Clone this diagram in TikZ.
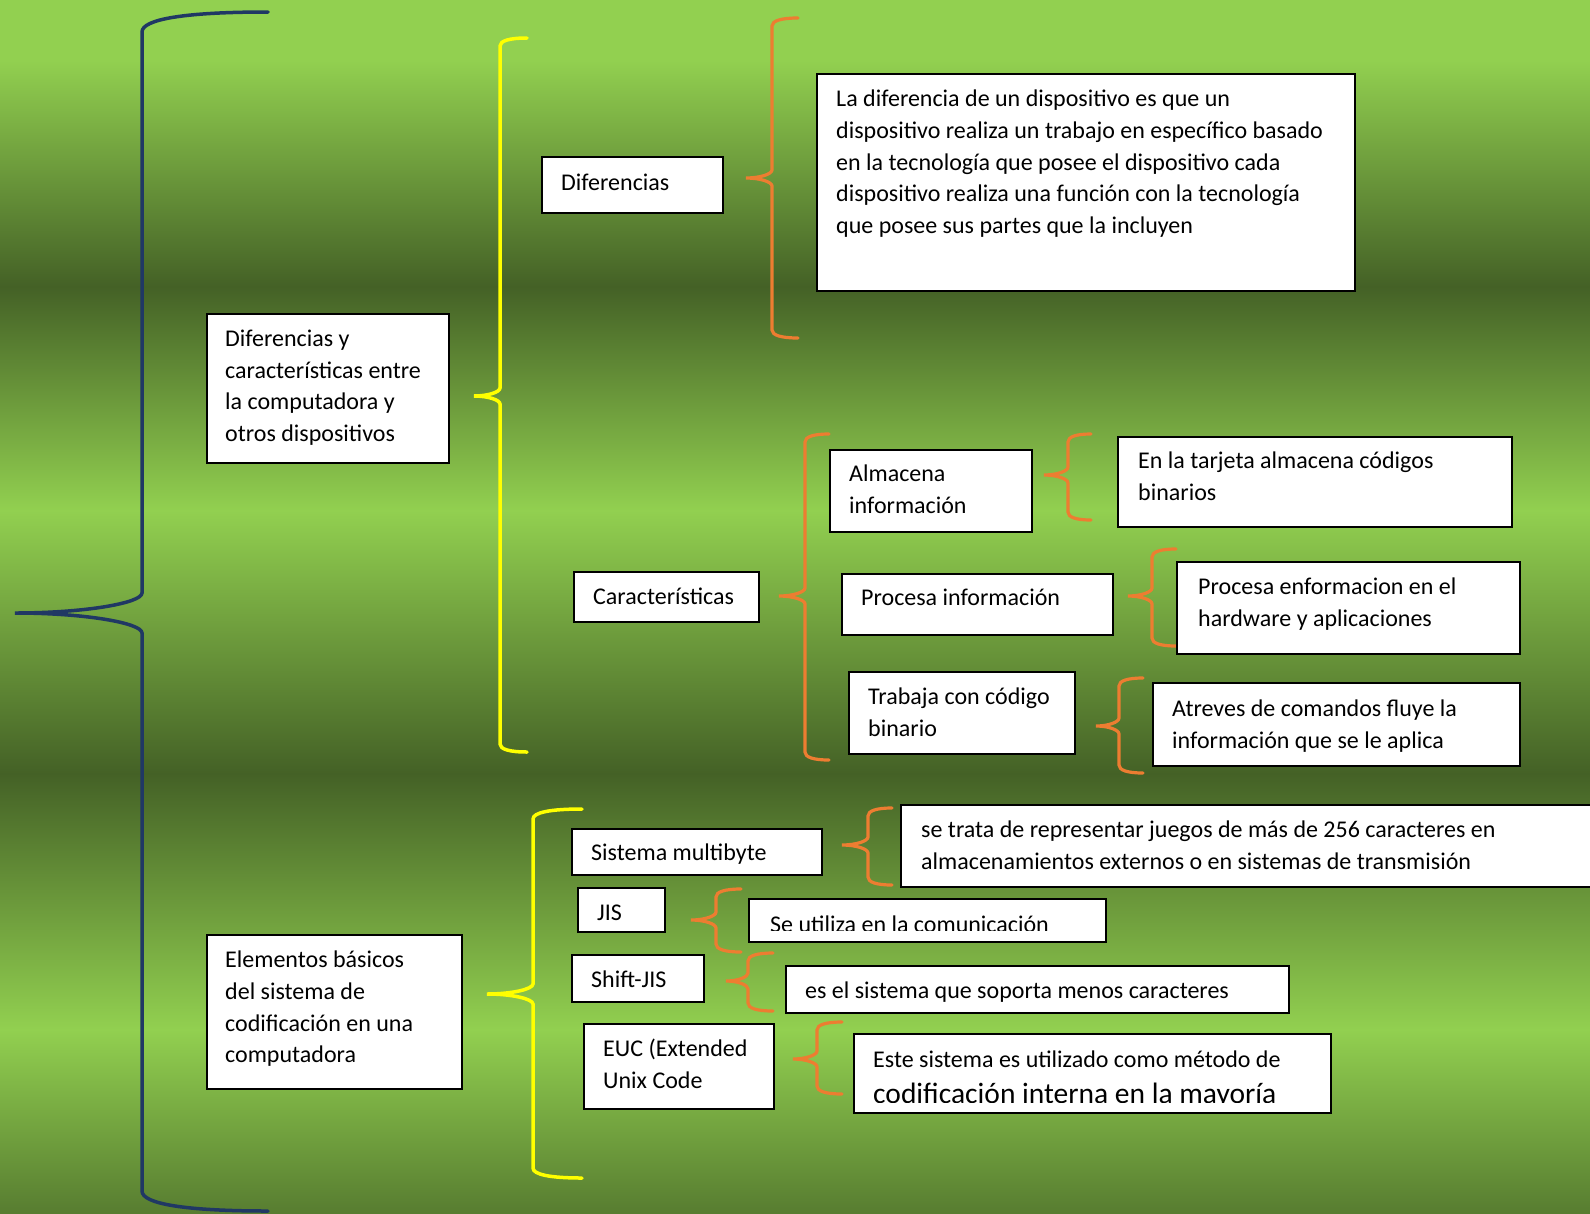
\documentclass[tikz,border=0pt]{standalone}
\usepackage{fontspec}
\setmainfont{Carlito}
\usetikzlibrary{calc}

\definecolor{verdeclaro}{RGB}{146,208,80}
\definecolor{verdeoscuro}{RGB}{68,97,38}
\definecolor{azulllave}{RGB}{32,56,100}
\definecolor{naranjallave}{RGB}{237,125,49}
\definecolor{amarillollave}{RGB}{255,255,0}

\tikzset{
  caja/.style={draw=black, line width=1.5pt, fill=white, anchor=north west, inner sep=0pt},
  texto/.style={anchor=north west, align=left, inner sep=0pt, font=\fontsize{24}{31.6}\selectfont,
    execute at begin node=\strut},
  llaveazul/.style={draw=azulllave, line width=3.5pt, line cap=round},
  llaveamarilla/.style={draw=amarillollave, line width=3.5pt, line cap=round},
  llavenaranja/.style={draw=naranjallave, line width=3.2pt, line cap=round}
}

% llave: estilo, x recta, x extremos, x punta, y arriba, y punta, y abajo, curva
\newcommand{\llave}[8]{%
  \draw[#1] (#3,#5) .. controls ({#2+0.35*(#3-#2)},#5) and (#2,{#5+0.35*#8}) .. (#2,{#5+#8})
    -- (#2,{#6-#8}) .. controls (#2,{#6-0.5*#8}) and ({#4+0.55*(#2-#4)},#6) .. (#4,#6)
    .. controls ({#4+0.55*(#2-#4)},#6) and (#2,{#6+0.5*#8}) .. (#2,{#6+#8})
    -- (#2,{#7-#8}) .. controls (#2,{#7-0.35*#8}) and ({#2+0.35*(#3-#2)},#7) .. (#3,#7);}

\begin{document}
\begin{tikzpicture}[x=1pt,y=-1pt]
  \clip (0,0) rectangle (1590,1213);

  % fondo
  \fill[verdeclaro] (0,0) rectangle (1590,61);
  \shade[top color=verdeclaro, bottom color=verdeoscuro] (0,60) rectangle (1590,287);
  \shade[top color=verdeoscuro, bottom color=verdeclaro] (0,286) rectangle (1590,511);
  \shade[top color=verdeclaro, bottom color=verdeoscuro] (0,510) rectangle (1590,774);
  \shade[top color=verdeoscuro, bottom color=verdeclaro] (0,773) rectangle (1590,1030);
  \shade[top color=verdeclaro, bottom color=verdeoscuro!75!verdeclaro] (0,1029) rectangle (1590,1213);

  % llaves
  \llave{llaveazul}{142}{268}{15}{12}{613}{1211}{20}
  \llave{llaveamarilla}{500}{527}{474}{38}{396}{752}{8}
  \llave{llaveamarilla}{533}{582}{487}{809}{994}{1178}{10}
  \llave{llavenaranja}{772}{798}{746}{18}{178}{338}{8}
  \llave{llavenaranja}{805}{829}{779}{434}{596}{760}{8}
  \llave{llavenaranja}{1068}{1091}{1044}{434}{475}{520}{8}
  \llave{llavenaranja}{1152}{1176}{1128}{549}{596}{646}{8}
  \llave{llavenaranja}{1119}{1143}{1096}{678}{726}{773}{8}
  \llave{llavenaranja}{868}{892}{842}{808}{845}{885}{8}
  \llave{llavenaranja}{716}{741}{691}{889}{920}{952}{8}
  \llave{llavenaranja}{748}{773}{726}{953}{981}{1011}{8}
  \llave{llavenaranja}{817}{842}{793}{1022}{1059}{1094}{8}

  % cajas
  \node[caja, minimum width=242, minimum height=149] (difcar) at (206,313) {};
  \node[caja, minimum width=181, minimum height=56] (dif) at (541,156) {};
  \node[caja, minimum width=538, minimum height=217] (difdesc) at (816,73) {};
  \node[caja, minimum width=185, minimum height=50] (car) at (573,571) {};
  \node[caja, minimum width=202, minimum height=82] (alm) at (829,449) {};
  \node[caja, minimum width=394, minimum height=90] (almdesc) at (1117,436) {};
  \node[caja, minimum width=271, minimum height=61] (proc) at (841,573) {};
  \node[caja, minimum width=343, minimum height=92] (procdesc) at (1176,561) {};
  \node[caja, minimum width=226, minimum height=82] (trab) at (848,671) {};
  \node[caja, minimum width=367, minimum height=83] (trabdesc) at (1152,682) {};
  \node[caja, minimum width=255, minimum height=154] (elem) at (206,934) {};
  \node[caja, minimum width=250, minimum height=46] (multi) at (571,828) {};
  \node[caja, minimum width=710, minimum height=82] (multidesc) at (900,804) {};
  \node[caja, minimum width=87, minimum height=44] (jis) at (577,887) {};
  \node[caja, minimum width=357, minimum height=43] (jisdesc) at (748,898) {};
  \node[caja, minimum width=132, minimum height=47] (sjis) at (571,954) {};
  \node[caja, minimum width=503, minimum height=47] (sjisdesc) at (785,965) {};
  \node[caja, minimum width=190, minimum height=85] (euc) at (583,1023) {};
  \node[caja, minimum width=477, minimum height=79] (eucdesc) at (853,1033) {};

  % textos
  \node[texto] (difcar-t) at ($(difcar.north west)+(19,17)$) {Diferencias y\\características entre\\la computadora y\\otros dispositivos};
  \node[texto] (dif-t) at ($(dif.north west)+(20,12)$) {Diferencias};
  \node[texto] (difdesc-t) at ($(difdesc.north west)+(20,17)$) {La diferencia de un dispositivo es que un\\dispositivo realiza un trabajo en específico basado\\en la tecnología que posee el dispositivo cada\\dispositivo realiza una función con la tecnología\\que posee sus partes que la incluyen};
  \node[texto] (car-t) at ($(car.north west)+(20,11)$) {Características};
  \node[texto] (alm-t) at ($(alm.north west)+(20,16)$) {Almacena\\información};
  \node[texto] (almdesc-t) at ($(almdesc.north west)+(21,16)$) {En la tarjeta almacena códigos\\binarios};
  \node[texto] (proc-t) at ($(proc.north west)+(20,10)$) {Procesa información};
  \node[texto] (procdesc-t) at ($(procdesc.north west)+(22,17)$) {Procesa enformacion en el\\hardware y aplicaciones};
  \node[texto] (trab-t) at ($(trab.north west)+(20,17)$) {Trabaja con código\\binario};
  \node[texto] (trabdesc-t) at ($(trabdesc.north west)+(20,18)$) {Atreves de comandos fluye la\\información que se le aplica};
  \node[texto] (elem-t) at ($(elem.north west)+(19,17)$) {Elementos básicos\\del sistema de\\codificación en una\\computadora};
  \node[texto] (multi-t) at ($(multi.north west)+(20,10)$) {Sistema multibyte};
  \node[texto] (multidesc-t) at ($(multidesc.north west)+(21,17)$) {se trata de representar juegos de más de 256 caracteres en\\almacenamientos externos o en sistemas de transmisión};
  \node[texto] (jis-t) at ($(jis.north west)+(20,11)$) {JIS};
  \begin{scope}
    \clip (748,898) rectangle (1105,930.5);
    \node[texto] (jisdesc-t) at ($(jisdesc.north west)+(22,12)$) {Se utiliza en la comunicación};
  \end{scope}
  \node[texto] (sjis-t) at ($(sjis.north west)+(20,11)$) {Shift-JIS};
  \node[texto] (sjisdesc-t) at ($(sjisdesc.north west)+(20,11)$) {es el sistema que soporta menos caracteres};
  \node[texto] (euc-t) at ($(euc.north west)+(20,16)$) {EUC (Extended\\Unix Code};
  \node[texto] (eucdesc-t) at ($(eucdesc.north west)+(20,12)$) {Este sistema es utilizado como método de};
  \begin{scope}
    \clip (853,1033) rectangle (1330,1102);
    \node[texto, anchor=base west, font=\fontsize{29.5}{34}\selectfont] (eucdesc-t2) at ($(eucdesc.north west)+(20,70.5)$) {codificación interna en la mayoría};
  \end{scope}
\end{tikzpicture}
\end{document}
